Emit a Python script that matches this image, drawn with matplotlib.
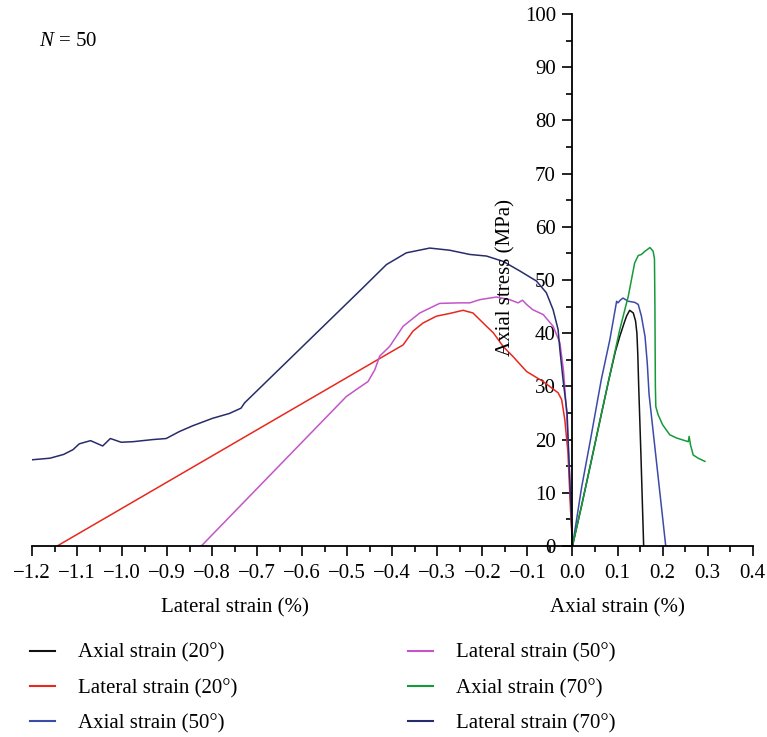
import matplotlib
matplotlib.use("Agg")
import matplotlib.pyplot as plt
from matplotlib.transforms import blended_transform_factory

plt.rcParams['font.family'] = ['Liberation Serif', 'DejaVu Serif']
plt.rcParams['mathtext.fontset'] = 'custom'
plt.rcParams['mathtext.it'] = 'Liberation Serif:italic'
plt.rcParams['mathtext.rm'] = 'Liberation Serif'

# ---- data ----
ax20_x = [0, 0.02, 0.04, 0.06, 0.08, 0.095, 0.105, 0.115, 0.12, 0.127, 0.135, 0.140, 0.143, 0.145, 0.147, 0.152, 0.158]
ax20_y = [0, 7.5, 15.3, 23.2, 31, 36.5, 39.4, 42, 43.2, 44.3, 43.8, 42.3, 40, 36, 30, 17, 0]

lat20_x = [-1.144, -0.376, -0.354, -0.332, -0.302, -0.273, -0.243, -0.221, -0.191, -0.176, -0.154, -0.132,
           -0.102, -0.065, -0.032, -0.024, -0.017, -0.010, -0.004, 0]
lat20_y = [0, 37.8, 40.4, 41.9, 43.2, 43.7, 44.3, 43.8, 41.3, 40.1, 37.5, 35.6,
           32.8, 30.9, 28.8, 27.5, 23.7, 17.5, 6.2, 0]

ax50_x = [0, 0.02, 0.04, 0.064, 0.083, 0.098, 0.101, 0.106, 0.112, 0.118, 0.124, 0.138, 0.146, 0.153,
          0.161, 0.166, 0.170, 0.180, 0.190, 0.200, 0.207]
ax50_y = [0, 10.9, 20, 31.3, 38.8, 46, 45.7, 46.2, 46.6, 46.3, 46, 45.8, 45.4, 43.2,
          39.4, 34.4, 28.5, 20.8, 13.1, 5.4, 0]

lat50_x = [-0.824, -0.502, -0.480, -0.454, -0.439, -0.428, -0.406, -0.376, -0.339, -0.295, -0.251, -0.228,
           -0.206, -0.169, -0.139, -0.121, -0.111, -0.102, -0.088, -0.065, -0.043, -0.028, -0.020, -0.013,
           -0.006, 0]
lat50_y = [0, 28.1, 29.4, 30.9, 33.1, 35.7, 37.5, 41.3, 43.8, 45.6, 45.7, 45.7,
           46.3, 46.8, 46.3, 45.7, 46.2, 45.4, 44.4, 43.5, 41.3, 38.2, 33, 25,
           12.4, 0]

ax70_x = [0, 0.02, 0.04, 0.06, 0.08, 0.105, 0.124, 0.138, 0.146, 0.153, 0.161, 0.172, 0.179, 0.182,
          0.183, 0.184, 0.185, 0.190, 0.200, 0.216, 0.231, 0.257, 0.259, 0.262, 0.268, 0.279, 0.294]
ax70_y = [0, 7.5, 15.3, 23.2, 31, 40.7, 47, 53.2, 54.6, 54.8, 55.4, 56.1, 55.4, 54,
          45, 30, 26.2, 24.7, 22.8, 20.9, 20.3, 19.6, 20.6, 19.0, 17.1, 16.5, 15.9]

lat70_x = [-1.2, -1.16, -1.13, -1.109, -1.095, -1.07, -1.043, -1.026, -1.002, -0.976, -0.932, -0.902,
           -0.873, -0.843, -0.799, -0.762, -0.736, -0.728, -0.473, -0.413, -0.369, -0.317, -0.273,
           -0.228, -0.191, -0.154, -0.117, -0.080, -0.058, -0.043, -0.032, -0.028, -0.021, -0.012,
           -0.006, 0]
lat70_y = [16.2, 16.5, 17.2, 18.1, 19.2, 19.8, 18.8, 20.2, 19.5, 19.6, 20.0, 20.2,
           21.5, 22.6, 24.0, 24.9, 25.9, 26.9, 47.9, 52.9, 55.1, 56.0, 55.6,
           54.8, 54.5, 53.5, 51.7, 49.8, 47.6, 44.4, 40.7, 36.9, 31.3, 25,
           12.4, 0]

labels = ["Axial strain (20°)", "Lateral strain (20°)", "Axial strain (50°)",
          "Lateral strain (50°)", "Axial strain (70°)", "Lateral strain (70°)"]
colors = ['#111111', '#e8281e', '#3b4ba8', '#c355c8', '#159a3a', '#282c6b']

x_ticks = [-1.2, -1.1, -1.0, -0.9, -0.8, -0.7, -0.6, -0.5, -0.4, -0.3, -0.2, -0.1, 0.0, 0.1, 0.2, 0.3, 0.4]
y_ticks = [0, 10, 20, 30, 40, 50, 60, 70, 80, 90, 100]

FS = 15

# ---- figure ----
fig = plt.figure(figsize=(7.67, 7.37), dpi=100)
ax = fig.add_axes([0.0417, 0.2592, 0.9396, 0.7218])

series = [(ax20_x, ax20_y), (lat20_x, lat20_y), (ax50_x, ax50_y),
          (lat50_x, lat50_y), (ax70_x, ax70_y), (lat70_x, lat70_y)]
for (xs, ys), lab, c in zip(series, labels, colors):
    ax.plot(xs, ys, color=c, lw=1.1, label=lab)

ax.set_xlim(-1.2, 0.4)
ax.set_ylim(0, 100)
ax.spines['top'].set_visible(False)
ax.spines['right'].set_visible(False)
ax.spines['left'].set_position(('data', 0))
ax.spines['left'].set_linewidth(1.3)
ax.spines['bottom'].set_linewidth(1.3)

ax.set_xticks(x_ticks)
ax.set_xticklabels([("−" if v < 0 else "") + f"{abs(v):.1f}" for v in x_ticks])
ax.set_xticks([v + 0.05 for v in x_ticks[:-1]], minor=True)
ax.set_yticks(y_ticks)
ax.set_yticklabels([str(v) for v in y_ticks])
ax.set_yticks([v + 5 for v in y_ticks[:-1]], minor=True)
ax.tick_params(axis='both', which='major', direction='out', length=7, width=1.2, labelsize=FS)
ax.tick_params(axis='both', which='minor', direction='out', length=4, width=1.2)
ax.tick_params(axis='x', pad=6)
ax.tick_params(axis='y', pad=5)

tr = blended_transform_factory(ax.transData, ax.transAxes)
ax.text(-0.75, -0.1165, "Lateral strain (%)", transform=tr, ha='center', va='center', fontsize=FS)
ax.text(0.10, -0.1165, "Axial strain (%)", transform=tr, ha='center', va='center', fontsize=FS)
ax.text(-0.148, 50.5, "Axial stress (MPa)", rotation=90, ha='center', va='center', fontsize=FS)
ax.text(-1.184, 94.9, "$N$ = 50", ha='left', va='center', fontsize=FS)

leg = fig.legend(loc='upper left', bbox_to_anchor=(0.039, 0.127), ncol=2, frameon=False,
                 fontsize=FS, handlelength=1.2, handletextpad=1.1, columnspacing=8.2,
                 labelspacing=0.75, borderpad=0, borderaxespad=0)
for line in leg.get_lines():
    line.set_linewidth(1.5)

fig.savefig("out.png", dpi=100)
